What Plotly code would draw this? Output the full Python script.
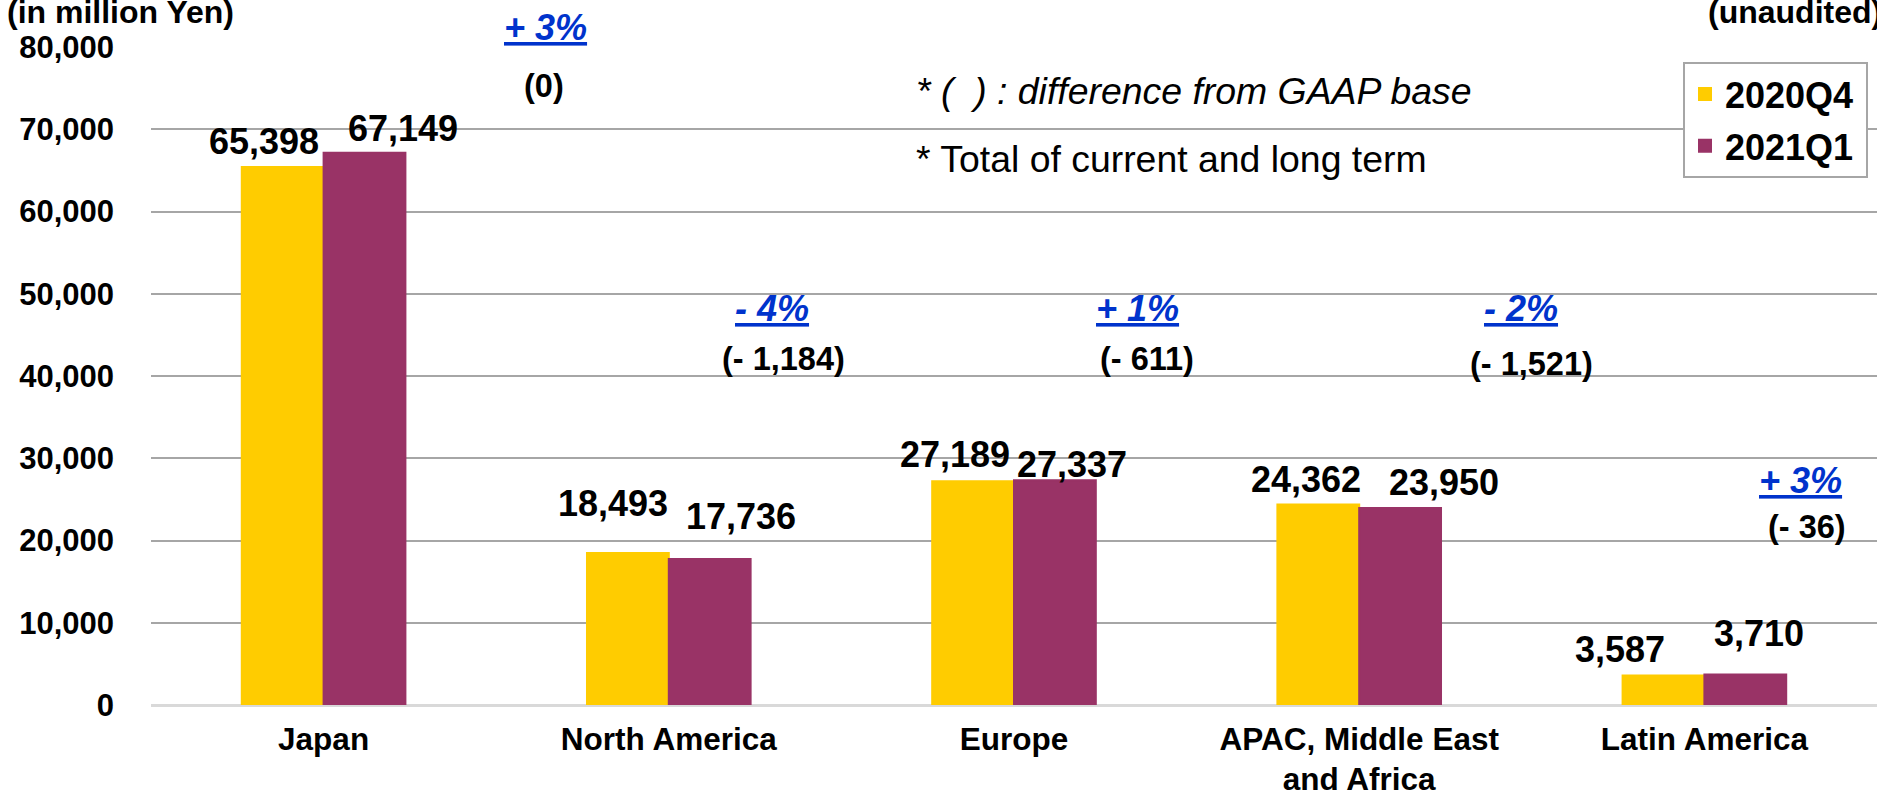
import plotly.graph_objects as go

# ---- data ----
regions = ["Japan", "North America", "Europe", "APAC, Middle East<br>and Africa", "Latin America"]
q4_2020 = [65398, 18493, 27189, 24362, 3587]
q1_2021 = [67149, 17736, 27337, 23950, 3710]
pct_change = ["+ 3%", "- 4%", "+ 1%", "- 2%", "+ 3%"]
gaap_diff = ["(0)", "(- 1,184)", "(- 611)", "(- 1,521)", "(- 36)"]
y_ticks = [0, 10000, 20000, 30000, 40000, 50000, 60000, 70000, 80000]

# ---- layout helpers (pixel geometry of the plot area) ----
W, H = 1877, 793
L, R, T, B = 151, 0, 47, 88
PW, PH = W - L - R, H - T - B


def px(x):
    return (x - L) / PW


def py(y):
    return (H - B - y) / PH


YELLOW = "#FFCC00"
PURPLE = "#993366"
BLUE = "#0033CC"
FONT = "Liberation Sans, Arial, sans-serif"

fig = go.Figure()
fig.add_trace(go.Bar(x=regions, y=q4_2020, name="<b>2020Q4</b>\u2009", legendgroup="a",
                     marker=dict(color=YELLOW, line=dict(color=YELLOW, width=2))))
fig.add_trace(go.Bar(x=regions, y=q1_2021, name="<b>2021Q1</b>\u2009", legendgroup="b",
                     marker=dict(color=PURPLE, line=dict(color=PURPLE, width=2))))

# value labels: manual nudges to mimic the original slide
half_bar = 41
lab_dx_y = [-19, -15, -18, -12, -43]
lab_dx_p = [38, 31, 17, 44, 14]
lab_gap_y = [12, 36, 13, 12, 13]
lab_gap_p = [11, 29, 2, 12, 27]
annotations = []
for i, r in enumerate(regions):
    annotations.append(dict(x=r, y=q4_2020[i], xref="x", yref="y", text=f"<b>{q4_2020[i]:,}</b>",
                            showarrow=False, yanchor="bottom", xanchor="center",
                            xshift=-half_bar + lab_dx_y[i], yshift=lab_gap_y[i] - 9,
                            font=dict(size=36, color="black", family=FONT)))
    annotations.append(dict(x=r, y=q1_2021[i], xref="x", yref="y", text=f"<b>{q1_2021[i]:,}</b>",
                            showarrow=False, yanchor="bottom", xanchor="center",
                            xshift=half_bar + lab_dx_p[i], yshift=lab_gap_p[i] - 9,
                            font=dict(size=36, color="black", family=FONT)))

pct_xy = [(545, 27), (772, 308), (1137, 308), (1521, 308), (1800, 480)]
paren_xy = [(544, 86), (783, 359), (1147, 359), (1531, 364), (1807, 527)]
for i in range(len(regions)):
    annotations.append(dict(x=px(pct_xy[i][0]), y=py(pct_xy[i][1]), xref="paper", yref="paper",
                            text=f"<b><i><u>{pct_change[i]}</u></i></b>", showarrow=False,
                            xanchor="center", yanchor="middle",
                            font=dict(size=36, color=BLUE, family=FONT)))
    annotations.append(dict(x=px(paren_xy[i][0]), y=py(paren_xy[i][1]), xref="paper", yref="paper",
                            text=f"<b>{gaap_diff[i]}</b>", showarrow=False,
                            xanchor="center", yanchor="middle",
                            font=dict(size=32.5, color="black", family=FONT)))

annotations += [
    dict(x=px(5), y=py(12), xref="paper", yref="paper", text="<b>(in million Yen)</b>",
         showarrow=False, xanchor="left", yanchor="middle", font=dict(size=32, color="black", family=FONT)),
    dict(x=px(1706), y=py(12), xref="paper", yref="paper", text="<b>(unaudited)</b>",
         showarrow=False, xanchor="left", yanchor="middle", font=dict(size=32, color="black", family=FONT)),
    dict(x=px(914), y=py(91), xref="paper", yref="paper", text="<i>* (  ) : difference from GAAP base</i>",
         showarrow=False, xanchor="left", yanchor="middle", font=dict(size=37.4, color="black", family=FONT)),
    dict(x=px(914), y=py(159), xref="paper", yref="paper", text="* Total of current and long term",
         showarrow=False, xanchor="left", yanchor="middle", font=dict(size=37.4, color="black", family=FONT)),
]

fig.update_layout(
    width=W, height=H,
    margin=dict(l=L, r=R, t=T, b=B, pad=0),
    paper_bgcolor="white", plot_bgcolor="white",
    barmode="group", bargap=0.526, bargroupgap=0,
    font=dict(family=FONT, color="black"),
    showlegend=True,
    legend=dict(x=px(1683), y=py(62), xanchor="left", yanchor="top",
                bgcolor="white", bordercolor="#A6A6A6", borderwidth=2,
                itemwidth=30, tracegroupgap=2,
                font=dict(size=36, color="black", family=FONT),
                itemclick=False, itemdoubleclick=False),
    annotations=annotations,
)
fig.update_xaxes(showgrid=False, showline=False, ticks="", ticklabelstandoff=12, automargin=False,
                 tickfont=dict(size=31.5, color="black", family=FONT, weight="bold"))
fig.update_yaxes(range=[0, 80000], tickvals=y_ticks, tickformat=",", showgrid=True,
                 gridcolor="#A6A6A6", gridwidth=2, zeroline=True, zerolinecolor="#D9D9D9",
                 zerolinewidth=3, showline=False, ticks="", ticklabelstandoff=36, automargin=False,
                 tickfont=dict(size=31, color="black", family=FONT, weight="bold"))

fig.write_html("out.html", config={"displayModeBar": False},
               post_script="document.body.style.margin='0';document.body.style.overflow='hidden';")
